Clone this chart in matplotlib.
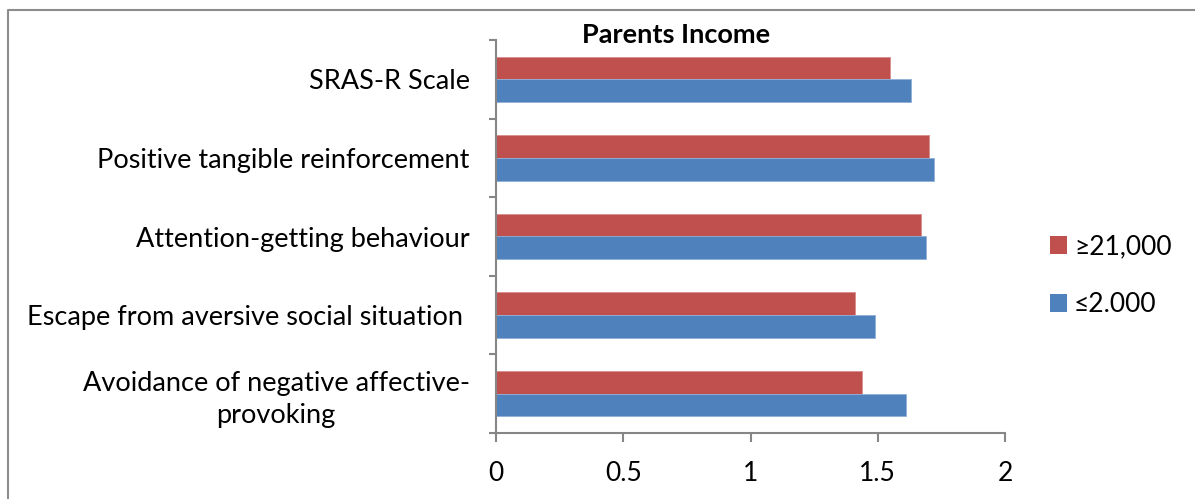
import numpy as np
import matplotlib.pyplot as plt
from matplotlib.patches import Patch
from matplotlib.lines import Line2D

plt.rcParams['font.family'] = ['Lato', 'DejaVu Sans']

# 数据（从下到上）
categories = ['Avoidance of negative affective-\nprovoking',
              'Escape from aversive social situation ',
              'Attention-getting behaviour',
              'Positive tangible reinforcement',
              'SRAS-R Scale']
high_income = [1.44, 1.41, 1.67, 1.70, 1.55]   # ≥21,000
low_income = [1.61, 1.49, 1.69, 1.72, 1.63]    # ≤2.000
series_names = ['≥21,000', '≤2.000']
xticks = [0, 0.5, 1, 1.5, 2]

red = '#C0504D'
blue = '#4F81BD'
grey = '#868686'

fig = plt.figure(figsize=(11.95, 4.99), dpi=100)
ax = fig.add_axes([496 / 1195, 1 - 433 / 499, (1005 - 496) / 1195, (433 - 40) / 499])

y = np.arange(len(categories))
h = 0.29
ax.barh(y + h / 2, high_income, height=h, color=red, edgecolor='#d98c8a', linewidth=0.6)
ax.barh(y - h / 2, low_income, height=h, color=blue, edgecolor='#8fb0d8', linewidth=0.6)

ax.set_xlim(0, 2)
ax.set_ylim(-0.5, len(categories) - 0.5)
ax.set_xticks(xticks)
ax.set_xticklabels(['0', '0.5', '1', '1.5', '2'], fontsize=19)
ax.set_yticks(y)
ax.set_yticklabels(categories, fontsize=19.5)
for lbl in ax.get_yticklabels():
    lbl.set_multialignment('center')
    lbl.set_linespacing(1.35)
ax.set_yticks(np.arange(-0.5, len(categories)), minor=True)

ax.tick_params(axis='y', which='major', length=0, pad=19)
ax.tick_params(axis='y', which='minor', length=5, width=1.5, color=grey, direction='out')
ax.tick_params(axis='x', length=6.5, width=1.5, color=grey, direction='out', pad=14)

for side in ['top', 'right']:
    ax.spines[side].set_visible(False)
for side in ['left', 'bottom']:
    ax.spines[side].set_color(grey)
    ax.spines[side].set_linewidth(1.5)

fig.text(676 / 1195, 1 - 35 / 499, 'Parents Income', fontsize=19.5, fontweight='bold',
         ha='center', va='center')

handles = [Patch(facecolor=red), Patch(facecolor=blue)]
fig.legend(handles, series_names, loc='center left', bbox_to_anchor=(1029 / 1195, 1 - 276 / 499),
           frameon=False, fontsize=19, handlelength=0.65, handleheight=0.65,
           handletextpad=0.25, labelspacing=1.25, borderpad=0.3)

# 外框（上、左）
fig.add_artist(Line2D([8 / 1195, 8 / 1195, 1], [0, 1 - 10 / 499, 1 - 10 / 499],
                      transform=fig.transFigure, color='#8c8c8c', linewidth=1.5))

fig.savefig('out.png', dpi=100)
